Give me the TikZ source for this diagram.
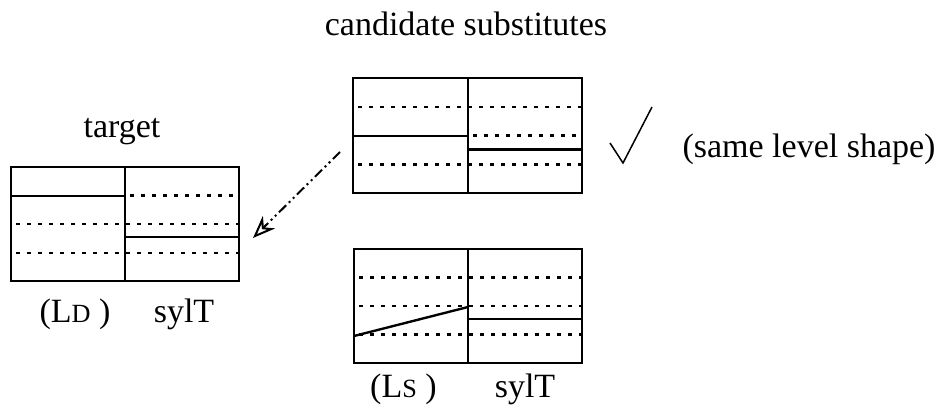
\documentclass[tikz,border=0pt]{standalone}
\usepackage{fontspec}
\setmainfont{Liberation Serif}
\usetikzlibrary{arrows.meta}
\newcommand{\lowcap}[1]{{\fontsize{10.5}{10.5}\selectfont #1}}

\begin{document}
\begin{tikzpicture}[x=0.4pt,y=-0.4pt,
  frame/.style={line width=0.95pt},
  dots/.style={line width=1pt,dash pattern=on 1.4pt off 3pt,dash phase=-2pt},
  hint/.style={line width=0.8pt,dash pattern=on 4pt off 1.5pt on 0.8pt off 1.5pt on 0.8pt off 1.5pt,
    -{Stealth[open,length=9pt,width=7pt]}},
  lbl/.style={font=\fontsize{13.6}{16}\selectfont,anchor=base,inner sep=0pt}]
  \useasboundingbox (0,0) rectangle (939,414);
  % headings
  \node[lbl] (cand) at (466,35) {candidate substitutes};
  \node[lbl] (tgt) at (122,137) {target};
  % target grid
  \draw[frame] (11,167) rectangle (239,281);
  \draw[frame] (125,167) -- (125,281);
  \draw[dots] (11,224) -- (239,224);
  \draw[dots] (11,253) -- (239,253);
  \draw[dots] (125,195.5) -- (239,195.5);
  \draw[frame] (11,196) -- (125,196);
  \draw[frame] (125,237) -- (239,237);
  \node[lbl] (tgtld) at (75,322) {(L\lowcap{D} )};
  \node[lbl] (tgtsyl) at (184,322) {sylT};
  % first candidate
  \draw[frame] (353,78) rectangle (582,193);
  \draw[frame] (468,78) -- (468,193);
  \draw[dots] (353,107) -- (582,107);
  \draw[dots] (353,164.5) -- (582,164.5);
  \draw[dots] (468,135.5) -- (582,135.5);
  \draw[frame] (353,136) -- (468,136);
  \draw[frame] (468,149.5) -- (582,149.5);
  % second candidate
  \draw[frame] (354,249) rectangle (582,363);
  \draw[frame] (468,249) -- (468,363);
  \draw[dots] (354,277.5) -- (582,277.5);
  \draw[dots] (354,306) -- (582,306);
  \draw[dots] (354,334.5) -- (582,334.5);
  \draw[frame] (468,319) -- (582,319);
  \draw[frame] (354,336) -- (468,307);
  \node[lbl] (candls) at (403.5,397) {(L\lowcap{S} )};
  \node[lbl] (candsyl) at (525,397) {sylT};
  % chosen one
  \draw[line width=0.6pt] (610,143) -- (623,163) -- (652,107);
  \node[lbl,anchor=base west] (same) at (682,157) {(same level shape)};
  % copy the shape over
  \coordinate (from) at (340,152);
  \coordinate (to) at (253,238);
  \draw[hint] (from) -- (to);
\end{tikzpicture}
\end{document}
